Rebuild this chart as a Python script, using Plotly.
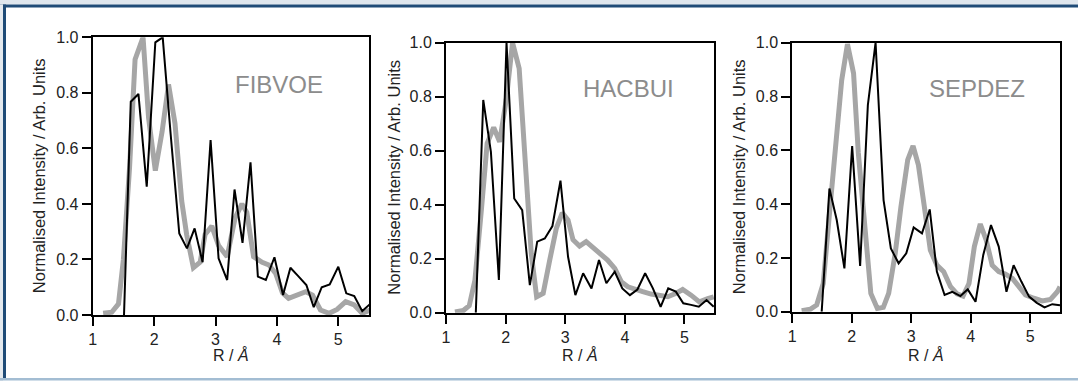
import plotly.graph_objects as go

# ---------------- data ----------------
fib_black_x = [1.51, 1.62, 1.745, 1.88, 2.02, 2.14, 2.27, 2.41, 2.535, 2.66, 2.79, 2.92, 3.05, 3.19, 3.31, 3.44,
               3.57, 3.69, 3.82, 3.96, 4.10, 4.22, 4.34, 4.48, 4.60, 4.73, 4.86, 5.00, 5.13, 5.26, 5.39, 5.52]
fib_black_y = [0.0, 0.768, 0.796, 0.462, 0.982, 1.0, 0.65, 0.294, 0.24, 0.312, 0.19, 0.63, 0.204, 0.126, 0.452, 0.26,
               0.55, 0.138, 0.126, 0.208, 0.072, 0.17, 0.142, 0.108, 0.028, 0.10, 0.11, 0.174, 0.078, 0.068, 0.014, 0.04]
fib_gray_x = [1.17, 1.31, 1.42, 1.50, 1.60, 1.69, 1.82, 1.91, 2.02, 2.13, 2.235, 2.34, 2.45, 2.53, 2.64, 2.75, 2.83,
              2.94, 3.05, 3.19, 3.32, 3.43, 3.51, 3.62, 3.76, 3.87, 3.98, 4.09, 4.19, 4.33, 4.47, 4.58, 4.71, 4.85,
              4.98, 5.12, 5.26, 5.39, 5.52]
fib_gray_y = [0.006, 0.01, 0.04, 0.2, 0.53, 0.92, 1.0, 0.71, 0.52, 0.66, 0.83, 0.69, 0.41, 0.29, 0.17, 0.19, 0.29,
              0.32, 0.25, 0.21, 0.35, 0.40, 0.37, 0.21, 0.19, 0.18, 0.15, 0.08, 0.06, 0.072, 0.084, 0.072, 0.018, 0.006,
              0.02, 0.048, 0.036, 0.006, 0.018]

hac_black_x = [1.50, 1.625, 1.753, 1.887, 2.015, 2.144, 2.278, 2.406, 2.53, 2.657, 2.785, 2.92, 3.047, 3.17, 3.30,
               3.44, 3.566, 3.69, 3.83, 3.957, 4.085, 4.21, 4.34, 4.47, 4.60, 4.727, 4.855, 4.98, 5.11, 5.24, 5.37, 5.49]
hac_black_y = [0.0, 0.788, 0.596, 0.121, 1.0, 0.423, 0.38, 0.102, 0.263, 0.275, 0.321, 0.489, 0.207, 0.065, 0.146,
               0.09, 0.195, 0.109, 0.152, 0.09, 0.065, 0.086, 0.146, 0.09, 0.022, 0.09, 0.078, 0.035, 0.029, 0.022,
               0.047, 0.022]
hac_gray_x = [1.15, 1.29, 1.39, 1.485, 1.597, 1.69, 1.80, 1.90, 2.01, 2.116, 2.227, 2.34, 2.43, 2.52, 2.63, 2.74, 2.85,
              2.95, 3.047, 3.13, 3.24, 3.35, 3.46, 3.57, 3.71, 3.83, 3.94, 4.05, 4.16, 4.30, 4.44, 4.58, 4.72, 4.86,
              4.97, 5.11, 5.25, 5.39, 5.49]
hac_gray_y = [0.003, 0.008, 0.026, 0.12, 0.39, 0.627, 0.686, 0.633, 0.788, 1.0, 0.905, 0.504, 0.22, 0.059, 0.072, 0.195,
              0.312, 0.37, 0.343, 0.27, 0.247, 0.263, 0.244, 0.22, 0.195, 0.164, 0.115, 0.096, 0.086, 0.078, 0.069,
              0.062, 0.059, 0.072, 0.086, 0.065, 0.04, 0.052, 0.059]

sep_black_x = [1.494, 1.624, 1.747, 1.876, 2.006, 2.14, 2.27, 2.40, 2.534, 2.657, 2.787, 2.916, 3.04, 3.18, 3.31, 3.43,
               3.56, 3.69, 3.826, 3.95, 4.08, 4.21, 4.34, 4.47, 4.60, 4.72, 4.85, 4.98, 5.11, 5.24, 5.37, 5.50]
sep_black_y = [0.0, 0.458, 0.341, 0.161, 0.616, 0.17, 0.768, 1.0, 0.415, 0.235, 0.18, 0.217, 0.313, 0.291, 0.38, 0.149,
               0.062, 0.074, 0.058, 0.083, 0.037, 0.211, 0.322, 0.242, 0.074, 0.173, 0.112, 0.056, 0.033, 0.016, 0.028,
               0.024]
sep_gray_x = [1.157, 1.30, 1.41, 1.52, 1.635, 1.747, 1.83, 1.927, 2.03, 2.11, 2.225, 2.32, 2.43, 2.53, 2.62, 2.73, 2.826,
              2.94, 3.03, 3.12, 3.22, 3.32, 3.43, 3.545, 3.66, 3.77, 3.87, 3.97, 4.06, 4.16, 4.26, 4.36, 4.47, 4.58,
              4.70, 4.81, 4.92, 5.06, 5.20, 5.34, 5.455, 5.50]
sep_gray_y = [0.004, 0.009, 0.025, 0.105, 0.39, 0.675, 0.86, 0.995, 0.886, 0.59, 0.28, 0.068, 0.012, 0.016, 0.068, 0.217,
              0.39, 0.564, 0.616, 0.545, 0.39, 0.229, 0.173, 0.149, 0.093, 0.066, 0.058, 0.105, 0.242, 0.326, 0.266,
              0.173, 0.149, 0.14, 0.124, 0.093, 0.062, 0.05, 0.04, 0.046, 0.074, 0.093]

panel_names = ["FIBVOE", "HACBUI", "SEPDEZ"]
x_ticks = [1, 2, 3, 4, 5]
y_ticks = [0.0, 0.2, 0.4, 0.6, 0.8, 1.0]
y_tick_text = ["0.0", "0.2", "0.4", "0.6", "0.8", "1.0"]

# ---------------- layout helpers ----------------
W, H = 1078, 381
FONT = "Liberation Sans, Arial, Helvetica, sans-serif"
GRAY = "#a6a6a6"


def px(x):
    return x / W


def py(y):
    return 1 - y / H


# pixel boxes of the three plot areas: (left, right, top, bottom)
boxes = [(92.7, 369.0, 37.3, 315.0), (446.0, 714.3, 42.7, 312.7), (792.3, 1060.0, 42.7, 311.7)]
ytitle_x = [39, 394, 739]
series = [
    (fib_gray_x, fib_gray_y, fib_black_x, fib_black_y),
    (hac_gray_x, hac_gray_y, hac_black_x, hac_black_y),
    (sep_gray_x, sep_gray_y, sep_black_x, sep_black_y),
]
label_pos = [(4.03, 0.83), (4.06, 0.832), (4.10, 0.83)]

fig = go.Figure()
annotations = []
for i, (gx, gy, bx, by) in enumerate(series):
    n = "" if i == 0 else str(i + 1)
    xa, ya = "x" + n, "y" + n
    fig.add_trace(go.Scatter(x=gx, y=gy, mode="lines", line=dict(color=GRAY, width=5),
                             xaxis=xa, yaxis=ya, showlegend=False, hoverinfo="skip"))
    fig.add_trace(go.Scatter(x=bx, y=by, mode="lines", line=dict(color="black", width=2),
                             xaxis=xa, yaxis=ya, showlegend=False, hoverinfo="skip"))
    l, r, t, b = boxes[i]
    axis_common = dict(showline=True, linecolor="black", linewidth=2, mirror=True, ticks="outside",
                       ticklen=9, tickwidth=2, tickcolor="black", showgrid=False, zeroline=False,
                       tickfont=dict(family=FONT, size=16, color="#222222"), automargin=False)
    fig.update_layout(**{
        ("xaxis" + n): dict(domain=[px(l), px(r)], range=[1, 5.5], tickvals=x_ticks, anchor=ya, **axis_common),
        ("yaxis" + n): dict(domain=[py(b), py(t)], range=[0, 1.0], tickvals=y_ticks, ticktext=y_tick_text,
                            anchor=xa, **axis_common),
    })
    annotations.append(dict(text=panel_names[i], x=label_pos[i][0], y=label_pos[i][1], xref=xa, yref=ya,
                            showarrow=False, font=dict(family=FONT, size=24, color="#8c8c8c"),
                            xanchor="center", yanchor="middle"))
    annotations.append(dict(text="R / <i>Å</i>", x=px((l + r) / 2), y=py(355), xref="paper", yref="paper",
                            showarrow=False, font=dict(family=FONT, size=16, color="#222222"),
                            xanchor="center", yanchor="middle"))
    annotations.append(dict(text="Normalised Intensity / Arb. Units", x=px(ytitle_x[i]), y=py((t + b) / 2),
                            xref="paper", yref="paper", textangle=-90, showarrow=False,
                            font=dict(family=FONT, size=16.5, color="#222222"),
                            xanchor="center", yanchor="middle"))

shapes = [
    dict(type="rect", xref="paper", yref="paper", x0=0, x1=1, y0=py(4.5), y1=1, fillcolor="#dfe6ed", line_width=0),
    dict(type="rect", xref="paper", yref="paper", x0=0, x1=1, y0=py(7.5), y1=py(4.5), fillcolor="#1f4b77",
         line_width=0),
    dict(type="rect", xref="paper", yref="paper", x0=0, x1=px(3), y0=0, y1=py(4.5), fillcolor="#e4e9ee",
         line_width=0),
    dict(type="rect", xref="paper", yref="paper", x0=px(3), x1=px(6), y0=py(379), y1=py(4.5), fillcolor="#1f4b77",
         line_width=0),
    dict(type="rect", xref="paper", yref="paper", x0=0, x1=1, y0=py(380.5), y1=py(378), fillcolor="#a3bdd3",
         line_width=0),
]

fig.update_layout(width=W, height=H, margin=dict(l=0, r=0, t=0, b=0), paper_bgcolor="white",
                  plot_bgcolor="white", annotations=annotations, shapes=shapes,
                  font=dict(family=FONT, color="#222222"))
fig.write_html("out.html")
